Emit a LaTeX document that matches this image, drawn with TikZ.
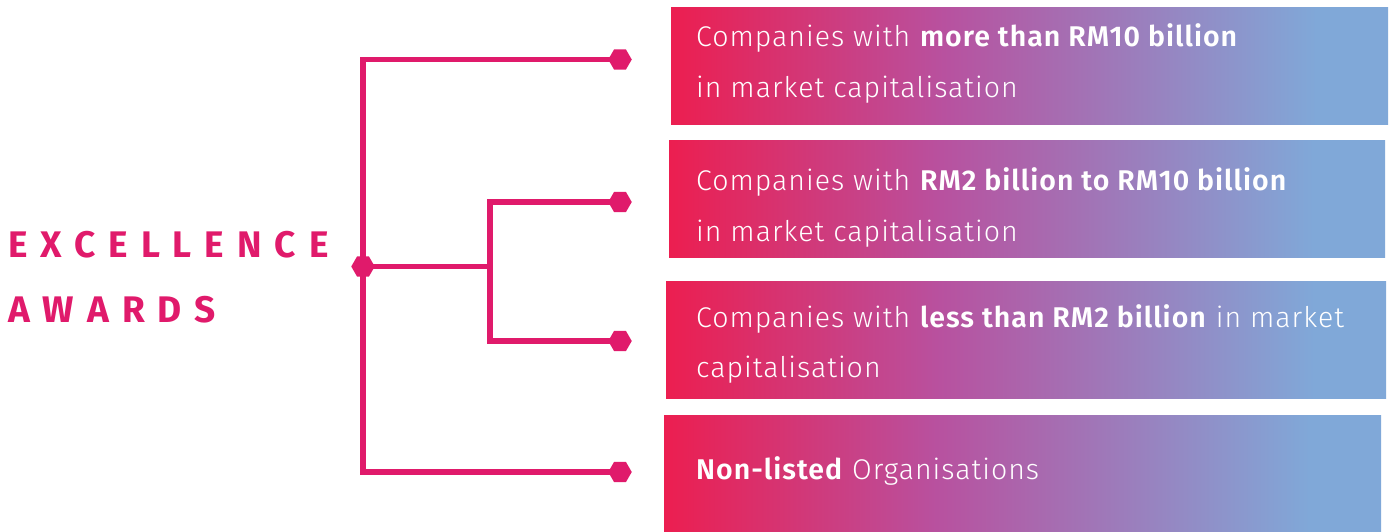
\documentclass[tikz,border=0pt]{standalone}
\usepackage{fontspec}
\setmainfont{Fira Sans Light}[BoldFont={Fira Sans SemiBold}, LetterSpace=3.5]
\newfontfamily\titlefont{Fira Sans Bold}[LetterSpace=35]
\usetikzlibrary{shapes.geometric,backgrounds}
\definecolor{linec}{HTML}{E01A6B}
\definecolor{gA}{HTML}{EC1E50}
\definecolor{gB}{HTML}{B8519F}
\definecolor{gC}{HTML}{80A8D8}
\pgfdeclarehorizontalshading{boxshade}{100bp}{color(0bp)=(gA); color(25bp)=(gA); color(44bp)=(gB); color(70bp)=(gC); color(100bp)=(gC)}
\tikzset{
  boxn/.style={shading=boxshade, draw=none, inner sep=0pt, anchor=north west},
  hexa/.style={regular polygon, regular polygon sides=6, minimum size=23.5pt, inner sep=0pt, fill=linec, draw=none},
  conn/.style={draw=linec, line width=5.3pt, line join=miter},
  txt/.style={anchor=base west, inner sep=0pt, text=white, font=\fontsize{28.5}{34}\selectfont},
  ttl/.style={anchor=base west, inner sep=0pt, text=linec, font=\titlefont\fontsize{37}{44}\selectfont}
}
\begin{document}
\begin{tikzpicture}[x=1pt,y=-1pt]
\useasboundingbox (0,0) rectangle (1392,531);
% boxes
\node[boxn, minimum width=717pt, minimum height=117pt] (b1) at (671,7) {};
\node[boxn, minimum width=716pt, minimum height=117pt] (b2) at (669,140) {};
\node[boxn, minimum width=720pt, minimum height=117pt] (b3) at (666,281) {};
\node[boxn, minimum width=717pt, minimum height=116pt] (b4) at (664,415) {};
% texts
\node[txt] (t1a) at (696,46) {Companies with \textbf{more than RM10 billion}};
\node[txt] (t1b) at (696,97) {in market capitalisation};
\node[txt] (t2a) at (696,190) {Companies with \textbf{RM2 billion to RM10 billion}};
\node[txt] (t2b) at (696,241) {in market capitalisation};
\node[txt] (t3a) at (696,327) {Companies with \textbf{less than RM2 billion} in market};
\node[txt] (t3b) at (696,377) {capitalisation};
\node[txt] (t4a) at (696,479) {\textbf{Non-listed} Organisations};
% title
\node[ttl] (ta) at (8,257) {EXCELLENCE};
\node[ttl] (tb) at (8,322) {AWARDS};
% hexagons
\node[hexa] (h1) at (620,59.5) {};
\node[hexa] (h2) at (620,202) {};
\node[hexa] (h3) at (620,341) {};
\node[hexa] (h4) at (620,472) {};
\node[hexa] (hc) at (363,266.5) {};
\coordinate (sub) at (490,266.5);
\begin{scope}[on background layer]
\draw[conn] (h1.center) -| (hc.center) |- (h4.center);
\draw[conn] (hc.center) -- (sub);
\draw[conn] (h2.center) -| (sub) |- (h3.center);
\end{scope}
\end{tikzpicture}
\end{document}
